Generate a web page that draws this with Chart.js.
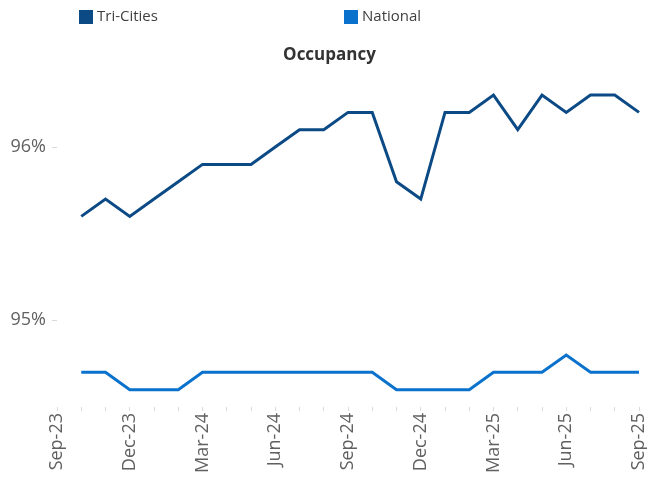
<!DOCTYPE html>
<html>
<head>
<meta charset="utf-8">
<script src="https://cdn.jsdelivr.net/npm/chart.js@4/dist/chart.umd.min.js"></script>
<style>
  html, body { margin: 0; padding: 0; background: #ffffff; }
  #wrap { position: relative; width: 647px; height: 477px; }
</style>
</head>
<body>
<div id="wrap"><canvas id="c" width="647" height="477"></canvas></div>
<script>
// ---- data ----
const months = ['Sep-23','Oct-23','Nov-23','Dec-23','Jan-24','Feb-24','Mar-24','Apr-24','May-24','Jun-24','Jul-24','Aug-24',
                'Sep-24','Oct-24','Nov-24','Dec-24','Jan-25','Feb-25','Mar-25','Apr-25','May-25','Jun-25','Jul-25','Aug-25','Sep-25'];
const triCities = [null, 95.6, 95.7, 95.6, 95.7, 95.8, 95.9, 95.9, 95.9, 96.0, 96.1, 96.1,
                   96.2, 96.2, 95.8, 95.7, 96.2, 96.2, 96.3, 96.1, 96.3, 96.2, 96.3, 96.3, 96.2];
const national  = [null, 94.7, 94.7, 94.6, 94.6, 94.6, 94.7, 94.7, 94.7, 94.7, 94.7, 94.7,
                   94.7, 94.7, 94.6, 94.6, 94.6, 94.6, 94.7, 94.7, 94.7, 94.8, 94.7, 94.7, 94.7];
const yTicks = [95, 96];
const seriesNames = ['Tri-Cities', 'National'];
const chartTitle = 'Occupancy';

const colors = ['#0B4A85', '#0A72CC'];

const legendPlugin = {
  id: 'customLegend',
  afterLayout(chart) {
    // centre the title the way the reference does (slightly right of canvas centre)
    if (chart.titleBlock) { chart.titleBlock.left = 20; }
  },
  afterDraw(chart) {
    const ctx = chart.ctx;
    const xs = [79, 344];
    ctx.save();
    ctx.font = '15px "Open Sans"';
    ctx.textBaseline = 'middle';
    ctx.textAlign = 'left';
    chart.data.datasets.forEach((ds, i) => {
      ctx.fillStyle = ds.borderColor;
      ctx.fillRect(xs[i], 10, 14, 14);
      ctx.fillStyle = '#404040';
      ctx.fillText(ds.label, xs[i] + 18, 17);
    });
    ctx.restore();
  }
};

new Chart(document.getElementById('c'), {
  type: 'line',
  data: {
    labels: months,
    datasets: [
      { label: seriesNames[0], data: triCities, borderColor: colors[0], backgroundColor: colors[0],
        borderWidth: 3, pointRadius: 0, tension: 0, fill: false },
      { label: seriesNames[1], data: national, borderColor: colors[1], backgroundColor: colors[1],
        borderWidth: 3, pointRadius: 0, tension: 0, fill: false }
    ]
  },
  options: {
    responsive: false,
    animation: false,
    layout: { padding: { left: 0, right: 8, top: 0, bottom: 0 } },
    plugins: {
      legend: { display: false },
      tooltip: { enabled: false },
      title: {
        display: true, text: chartTitle, color: '#333333',
        font: { family: '"Open Sans"', size: 17, weight: 'bold', lineHeight: 1.2 },
        padding: { top: 45, bottom: -5 }
      }
    },
    scales: {
      x: {
        offset: false,
        border: { display: false },
        grid: { drawOnChartArea: false, drawTicks: true, tickLength: 4, color: '#d9d9d9' },
        ticks: {
          autoSkip: false, minRotation: 90, maxRotation: 90, padding: 2,
          color: '#606060', font: { family: '"Open Sans"', size: 18 },
          callback: function(v, i) { return i % 3 === 0 ? months[i] : ''; }
        },
        afterFit(scale) { scale.height = 70; scale.paddingLeft = 0; scale.paddingRight = 0; }
      },
      y: {
        min: 94.5, max: 96.5,
        border: { display: false },
        grid: { drawOnChartArea: false, drawTicks: true, tickLength: 5, color: '#d9d9d9' },
        afterBuildTicks(scale) { scale.ticks = yTicks.map(v => ({ value: v })); },
        ticks: {
          padding: 6, color: '#606060', font: { family: '"Open Sans"', size: 18 },
          callback: v => v + '%'
        },
        afterFit(scale) { scale.width = 57; scale.paddingTop = 0; scale.paddingBottom = 0; }
      }
    }
  },
  plugins: [legendPlugin]
});
</script>
</body>
</html>
